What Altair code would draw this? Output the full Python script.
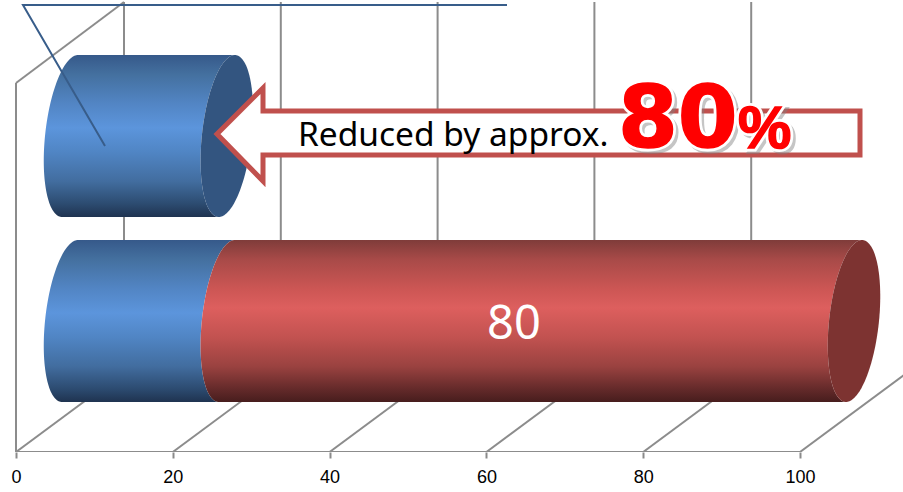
import altair as alt
import numpy as np
import pandas as pd

# Series values per row of the chart
ROWS = ["upper", "lower"]
BLUE = [20, 20]
RED = [0, 80]
TICKS = [0, 20, 40, 60, 80, 100]
CALLOUT_TEXT = "Reduced by approx."
CALLOUT_VALUE = "80"
CALLOUT_UNIT = "%"

W, H = 903, 452
PX_PER_UNIT = 7.84
ORIGIN = 16


def u(px):
    """Horizontal screen offset to value-axis units."""
    return (px - ORIGIN) / PX_PER_UNIT


def el(py):
    """Vertical screen offset to height above the floor line."""
    return H - py


# 3-D box of the chart, expressed in axis units / floor heights
DEPTH = 108 / PX_PER_UNIT
RISE = 80
WALL_TOP = el(2)
FLOOR_BACK = RISE

# Cylinder geometry: tilted ellipse for each cross-section
CENTER_SHIFT = DEPTH / 2
TILT = 8 / PX_PER_UNIT
SEMI_X = 25 / PX_PER_UNIT
SEMI_Y = 81
ROW_CENTER = {"upper": el(136), "lower": el(321)}
angles = np.linspace(0, np.pi, 91)


def section(row, value):
    xc = value + CENTER_SHIFT + TILT * np.cos(angles)
    return pd.DataFrame(
        {
            "row": row,
            "e": ROW_CENTER[row] + SEMI_Y * np.cos(angles),
            "left": xc - SEMI_X * np.sin(angles),
            "right": xc + SEMI_X * np.sin(angles),
        }
    )


def body(row, start, stop):
    a, b = section(row, start), section(row, stop)
    return pd.DataFrame(
        {"row": row, "e": a["e"], "left": a["left"], "right": b["left"]}
    )


blue_body = pd.concat([body(r, 0, v) for r, v in zip(ROWS, BLUE)])
red_rows = [(r, b, b + v) for r, b, v in zip(ROWS, BLUE, RED) if v > 0]
red_body = pd.concat([body(*t) for t in red_rows])
blue_cap = section("upper", BLUE[0])
red_cap = section(*red_rows[0][0::2])


def shade(stops):
    return alt.Gradient(
        gradient="linear",
        x1=0,
        x2=0,
        y1=0,
        y2=1,
        stops=[alt.GradientStop(offset=o, color=c) for o, c in stops],
    )


BLUE_FILL = shade(
    [
        (0.0, "#36598a"),
        (0.12, "#44709f"),
        (0.3, "#5285c4"),
        (0.45, "#5c95dc"),
        (0.6, "#5085c4"),
        (0.78, "#426d9f"),
        (0.92, "#2c4b70"),
        (1.0, "#1f3350"),
    ]
)
RED_FILL = shade(
    [
        (0.0, "#7f3c3a"),
        (0.12, "#a84a48"),
        (0.3, "#cc5654"),
        (0.42, "#dd5f5e"),
        (0.6, "#c25250"),
        (0.78, "#9a4240"),
        (0.92, "#642a2a"),
        (1.0, "#471d1d"),
    ]
)

x_scale = alt.Scale(domain=[u(0), u(W)], nice=False, zero=False)
y_scale = alt.Scale(domain=[0, H], nice=False, zero=False)
x_axis = alt.Axis(
    values=TICKS,
    format="d",
    title=None,
    grid=False,
    domain=False,
    ticks=True,
    tickSize=6,
    tickColor="#8a8a8a",
    tickWidth=2,
    labels=True,
    labelFont="Liberation Sans",
    labelFontSize=18,
    labelColor="#000000",
    labelPadding=10,
    labelFlush=False,
    labelOverlap=False,
)


def X(field):
    return alt.X(field, type="quantitative", scale=x_scale, axis=x_axis)


def Y(field):
    return alt.Y(field, type="quantitative", scale=y_scale, axis=None)


GRID = "#8c8c8c"

# Walls and floor of the 3-D box
lines = []
lines.append(
    pd.DataFrame(
        {"x0": [t + DEPTH for t in TICKS], "x1": [t + DEPTH for t in TICKS],
         "y0": [FLOOR_BACK] * 6, "y1": [WALL_TOP] * 6}
    )
)
lines.append(
    pd.DataFrame(
        {"x0": TICKS, "x1": [t + DEPTH for t in TICKS],
         "y0": [0] * 6, "y1": [FLOOR_BACK] * 6}
    )
)
lines.append(
    pd.DataFrame(
        {"x0": [0, 0, 0], "x1": [0, 100, DEPTH],
         "y0": [0, 0, el(83)], "y1": [el(83), 0, WALL_TOP]}
    )
)
box = alt.Chart(pd.concat(lines)).mark_rule(color=GRID, strokeWidth=2, clip=True).encode(
    x=X("x0"), x2=alt.X2("x1"), y=Y("y0"), y2=alt.Y2("y1")
)

blue_layer = alt.Chart(blue_body).mark_area(orient="horizontal", fill=BLUE_FILL).encode(
    y=Y("e"), x=X("left"), x2=alt.X2("right"), detail="row:N"
)
red_layer = alt.Chart(red_body).mark_area(orient="horizontal", fill=RED_FILL).encode(
    y=Y("e"), x=X("left"), x2=alt.X2("right"), detail="row:N"
)
blue_end = alt.Chart(blue_cap).mark_area(orient="horizontal", color="#335580").encode(
    y=Y("e"), x=X("left"), x2=alt.X2("right")
)
red_end = alt.Chart(red_cap).mark_area(orient="horizontal", color="#7d3331").encode(
    y=Y("e"), x=X("left"), x2=alt.X2("right")
)

# Value label on the long segment
value_label = alt.Chart(
    pd.DataFrame({"x": [u(514)], "y": [el(339)], "t": [str(RED[1])]})
).mark_text(font="Noto Sans", fontSize=47, color="#ffffff", align="center", baseline="alphabetic").encode(
    x=X("x"), y=Y("y"), text="t:N"
)

# Leader line running to the upper cylinder
leader_df = pd.DataFrame(
    {"o": [0, 1, 2], "x": [u(507), u(23), u(105)], "y": [el(5), el(5), el(146)]}
)
leader = alt.Chart(leader_df).mark_line(color="#385d8a", strokeWidth=2).encode(
    x=X("x"), y=Y("y"), order="o:Q"
)

# Block arrow callout
arrow_fill_df = pd.DataFrame(
    {
        "x": [u(217), u(263), u(263), u(860)],
        "a": [el(134), el(88), el(111), el(111)],
        "b": [el(134), el(181), el(155), el(155)],
    }
)
arrow_fill = alt.Chart(arrow_fill_df).mark_area(color="#ffffff", opacity=1).encode(
    x=X("x"), y=Y("a"), y2=alt.Y2("b")
)
outline_px = [(217, 134), (263, 88), (263, 111), (860, 111), (860, 155), (263, 155), (263, 181), (217, 134)]
arrow_line_df = pd.DataFrame(
    {
        "o": range(len(outline_px)),
        "x": [u(p[0]) for p in outline_px],
        "y": [el(p[1]) for p in outline_px],
    }
)
arrow_line = alt.Chart(arrow_line_df).mark_line(
    color="#c0504d", strokeWidth=5, strokeJoin="miter", strokeCap="square"
).encode(x=X("x"), y=Y("y"), order="o:Q")

callout = alt.Chart(
    pd.DataFrame({"x": [u(298)], "y": [el(146)], "t": [CALLOUT_TEXT]})
).mark_text(font="Noto Sans", fontSize=33.5, color="#000000", align="left", baseline="alphabetic").encode(
    x=X("x"), y=Y("y"), text="t:N"
)


def outlined(text, px, py, size, family):
    df = pd.DataFrame({"x": [u(px)], "y": [el(py)], "t": [text]})
    common = dict(font=family, fontWeight="bold", fontSize=size, align="left", baseline="alphabetic")
    enc = dict(x=X("x"), y=Y("y"), text="t:N")
    return [
        alt.Chart(df).mark_text(dx=3, dy=3, color="#808080", stroke="#808080", strokeWidth=6, opacity=0.45, **common).encode(**enc),
        alt.Chart(df).mark_text(color="#ffffff", stroke="#ffffff", strokeWidth=7, **common).encode(**enc),
        alt.Chart(df).mark_text(color="#ff0000", stroke="#ff0000", strokeWidth=1.5, **common).encode(**enc),
    ]


chart = alt.layer(
    box,
    blue_layer,
    red_layer,
    blue_end,
    red_end,
    value_label,
    leader,
    arrow_fill,
    arrow_line,
    callout,
    *outlined(CALLOUT_VALUE, 618, 147, 86, "DejaVu Sans"),
    *outlined(CALLOUT_UNIT, 738, 148, 60, "Liberation Sans"),
).properties(
    width=W,
    height=H,
    padding={"left": 0, "top": 0, "right": 0, "bottom": 40},
    autosize=alt.AutoSizeParams(type="none"),
    background="#ffffff",
).configure_view(stroke=None)

chart.save("out.html", embed_options={"renderer": "svg", "actions": False})
